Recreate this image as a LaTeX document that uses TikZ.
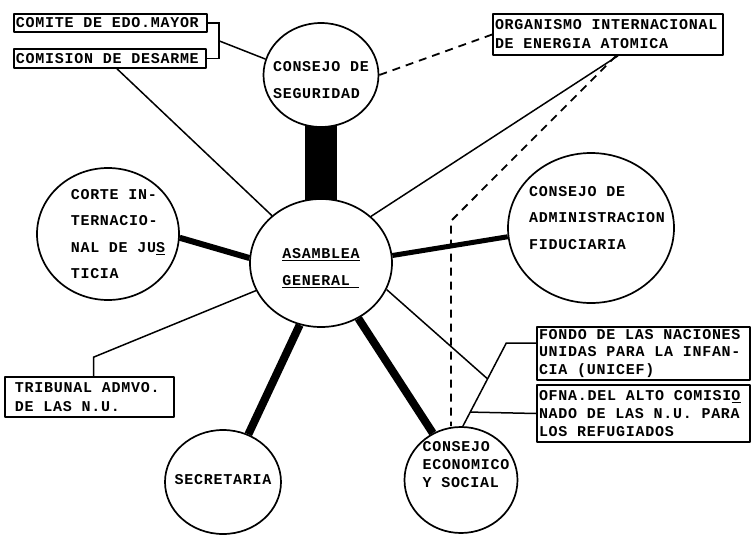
\documentclass[tikz,border=0pt]{standalone}
\usepackage{fontspec}
\newfontfamily\tw[LetterSpace=4.9]{Liberation Mono}
\newcommand\maquina[1]{\tw\bfseries\fontsize{15}{#1}\selectfont}
\usetikzlibrary{shapes.geometric,calc}
\pgfdeclarelayer{bg}
\pgfsetlayers{bg,main}
\begin{document}
\begin{tikzpicture}[x=1pt,y=-1pt,line cap=round,line join=round,
  organo/.style={ellipse,draw,line width=1.7pt,fill=white,inner sep=0pt},
  intxt/.style={font=\maquina{26.5},align=left,inner sep=0pt,
    execute at begin node={\spaceskip=9.73pt\relax\xspaceskip=9.73pt\relax}},
  caja/.style={draw,fill=white,line width=1.6pt,inner xsep=2pt,inner ysep=0pt,align=left,
    font=\maquina{19},execute at begin node={\spaceskip=9.73pt\relax\xspaceskip=9.73pt\relax}},
  enlace/.style={line width=1.5pt},
  grueso/.style={line width=#1},
  guion/.style={line width=1.8pt,dash pattern=on 8pt off 6pt}]
  \useasboundingbox (0,0) rectangle (753,536);
  \node[organo,minimum width=142,minimum height=128,
    label={[intxt,yshift=-5pt]center:\underline{ASAMBLEA}\\\underline{GENERAL\phantom{A}}}] (ag) at (321,263) {};
  \node[organo,minimum width=115,minimum height=104,
    label={[intxt,yshift=-5pt]center:CONSEJO DE\\SEGURIDAD}] (cs) at (321,75) {};
  \node[organo,minimum width=142,minimum height=132,
    label={[intxt,xshift=10pt]center:CORTE IN-\\TERNACIO-\\NAL DE JU\underline{S}\\TICIA}] (cij) at (108,234) {};
  \node[organo,minimum width=166,minimum height=150,
    label={[intxt,xshift=6pt,yshift=10pt]center:CONSEJO DE\\ADMINISTRACION\\FIDUCIARIA}] (caf) at (591,228) {};
  \node[organo,minimum width=116,minimum height=104,
    label={[intxt,yshift=2pt]center:SECRETARIA}] (sec) at (223,482) {};
  \node[organo,minimum width=113,minimum height=106,
    label={[intxt,font=\maquina{18},xshift=5pt,yshift=15pt]center:CONSEJO\\ECONOMICO\\Y SOCIAL}] (ces) at (461,480) {};

  \node[caja,text width=189,minimum height=18] (cem) at (110.5,23) {COMITE DE EDO.MAYOR};
  \node[caja,text width=188,minimum height=19] (cds) at (110,58.5) {COMISION DE DESARME};
  \node[caja,text width=226,minimum height=41] (oia) at (608,34.5) {ORGANISMO INTERNACIONAL\\DE ENERGIA ATOMICA};
  \node[caja,font=\maquina{17.5},text width=209,minimum height=53] (fnu) at (643.5,353.5) {FONDO DE LAS NACIONES\\UNIDAS PARA LA INFAN-\\CIA (UNICEF)};
  \node[caja,font=\maquina{18},text width=209,minimum height=57] (ofn) at (643.5,413.5) {OFNA.DEL ALTO COMISI\underline{O}\\NADO DE LAS N.U. PARA\\LOS REFUGIADOS};
  \node[caja,inner xsep=10pt,text width=149,minimum height=40] (tan) at (89.5,397) {TRIBUNAL ADMVO.\\DE LAS N.U.};

  \coordinate (quiebre) at (451,221);
  \begin{pgfonlayer}{bg}
    \draw[grueso=32pt,line cap=butt,shorten <=-4pt,shorten >=-4pt] (cs.south) -- (ag.north);
    \draw[grueso=6pt] (cij.-3) -- (ag.176);
    \draw[grueso=5pt] (ag.6) -- (caf.186);
    \draw[grueso=8pt] (ag.251) -- (sec.62);
    \draw[grueso=8pt] (ag.304) -- (ces.121);
    \draw[enlace] (cem.east) -- ++(11,0) |- (cds.east) coordinate[pos=0.25] (llave);
    \draw[enlace] (llave) -- (cs.164);
    \draw[enlace] ($(cds.south)+(7,0)$) -- (ag.136);
    \draw[guion] (cs.east) -- (oia.west);
    \draw[enlace] ($(oia.south)+(10,0)$) -- (ag.43);
    \draw[guion] ($(oia.south)+(8,0)$) -- (quiebre) -- (quiebre |- ces.north);
    \draw[enlace] ($(fnu.north west)+(0,17)$) -- ++(-30,0) -- (ces.88)
      coordinate[pos=0.43] (fa) coordinate[pos=0.83] (fo);
    \draw[enlace] (ag.338) -- (fa);
    \draw[enlace] (ofn.west) -- (fo);
    \draw[enlace] ($(tan.north)+(4,0)$) -- ++(0,-19) -- (ag.203);
  \end{pgfonlayer}
\end{tikzpicture}
\end{document}
